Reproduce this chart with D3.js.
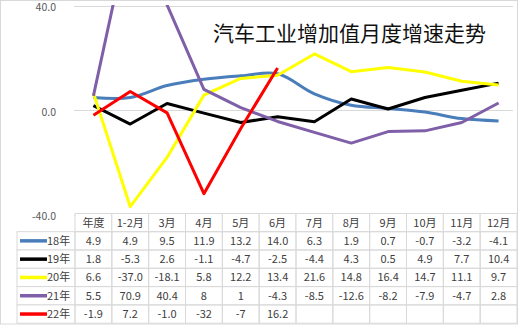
<!DOCTYPE html>
<html><head><meta charset="utf-8">
<script src="https://cdn.jsdelivr.net/npm/d3@7/dist/d3.min.js"></script>
<style>
html,body{margin:0;padding:0;background:#fff;}
svg{display:block;font-family:"Noto Sans CJK SC","Noto Sans",sans-serif;}
</style></head>
<body><svg id="c" width="519" height="325"></svg>
<script>
const title = "汽车工业增加值月度增速走势";
const categories = ["年度","1-2月","3月","4月","5月","6月","7月","8月","9月","10月","11月","12月"];
const seriesNames = ["18年","19年","20年","21年","22年"];
const colors = ["#4a7ebb","#000000","#ffff00","#7f5fa8","#ff0000"];
const s18 = ["4.9","4.9","9.5","11.9","13.2","14.0","6.3","1.9","0.7","-0.7","-3.2","-4.1"];
const s19 = ["1.8","-5.3","2.6","-1.1","-4.7","-2.5","-4.4","4.3","0.5","4.9","7.7","10.4"];
const s20 = ["6.6","-37.0","-18.1","5.8","12.2","13.4","21.6","14.8","16.4","14.7","11.1","9.7"];
const s21 = ["5.5","70.9","40.4","8","1","-4.3","-8.5","-12.6","-8.2","-7.9","-4.7","2.8"];
const s22 = ["-1.9","7.2","-1.0","-32","-7","16.2"];
const yTicks = [-40, 0, 40];
const seriesData = [s18, s19, s20, s21, s22];
const smooth = [true, false, false, false, false];

(function(){
const svg = d3.select("#c");
const pL = 75, pR = 517, pT = 6, pB = 214.5;
const x = d3.scaleBand().domain(categories).range([pL, pR]).padding(0);
const y = d3.scaleLinear().domain([-40, 40]).range([pB, pT]);

svg.append("rect").attr("x",0.5).attr("y",0.5).attr("width",517).attr("height",323.5)
  .attr("fill","none").attr("stroke","#d9d9d9");

svg.append("g").selectAll("line").data(yTicks).join("line")
  .attr("x1", pL - 1).attr("x2", 513)
  .attr("y1", d => Math.round(y(d)) + 0.5).attr("y2", d => Math.round(y(d)) + 0.5)
  .attr("stroke", "#d9d9d9").attr("stroke-width", 1);

const ya = svg.append("g").attr("transform", `translate(${pL - 16},1.5)`)
  .call(d3.axisLeft(y).tickValues(yTicks).tickSize(0).tickFormat(d => d.toFixed(1)));
ya.select(".domain").remove();
ya.selectAll("text").attr("fill", "#595959").style("font-size", "10.5px")
  .style("font-family", '"Noto Sans CJK SC","Noto Sans",sans-serif');

svg.append("clipPath").attr("id","clip").append("rect")
  .attr("x", 0).attr("y", pT - 1).attr("width", 519).attr("height", pB - pT + 2);

const gLines = svg.append("g").attr("clip-path","url(#clip)");
seriesData.forEach((arr, i) => {
  const pts = arr.map((v, j) => [x(categories[j]) + x.bandwidth()/2, y(+v)]);
  const line = d3.line().curve(smooth[i] ? d3.curveCatmullRom.alpha(0.5) : d3.curveLinear);
  gLines.append("path").attr("d", line(pts)).attr("fill","none")
    .attr("stroke", colors[i]).attr("stroke-width", 3).attr("stroke-linejoin","round");
});

svg.append("text").attr("x", 213).attr("y", 41).text(title)
  .attr("fill", "#111").style("font-size", "21px");

const tTop = 213.5, hH = 18.2, rH = 18.3, legL = 17;
const tg = svg.append("g");
const gridColor = "#d9d9d9";
categories.forEach((c, j) => {
  tg.append("rect").attr("x", x(c)).attr("y", tTop).attr("width", x.bandwidth()).attr("height", hH)
    .attr("fill","#fff").attr("stroke", gridColor);
  tg.append("text").attr("x", x(c) + x.bandwidth()/2).attr("y", tTop + hH/2 + 4)
    .attr("text-anchor","middle").attr("fill","#404040").style("font-size","11px").text(c);
});
seriesNames.forEach((n, i) => {
  const ry = tTop + hH + i * rH;
  tg.append("rect").attr("x", legL).attr("y", ry).attr("width", pL - legL).attr("height", rH)
    .attr("fill","#fff").attr("stroke", gridColor);
  tg.append("line").attr("x1", legL + 3).attr("x2", legL + 30).attr("y1", ry + rH/2).attr("y2", ry + rH/2)
    .attr("stroke", colors[i]).attr("stroke-width", 3.5);
  tg.append("text").attr("x", legL + 30).attr("y", ry + rH/2 + 4)
    .attr("fill","#404040").style("font-size","11px").text(n);
  categories.forEach((c, j) => {
    tg.append("rect").attr("x", x(c)).attr("y", ry).attr("width", x.bandwidth()).attr("height", rH)
      .attr("fill","none").attr("stroke", gridColor);
    const v = seriesData[i][j];
    if (v !== undefined) {
      tg.append("text").attr("x", x(c) + x.bandwidth()/2).attr("y", ry + rH/2 + 4)
        .attr("text-anchor","middle").attr("fill","#404040").style("font-size","11px").text(v);
    }
  });
});
})();
</script></body></html>
